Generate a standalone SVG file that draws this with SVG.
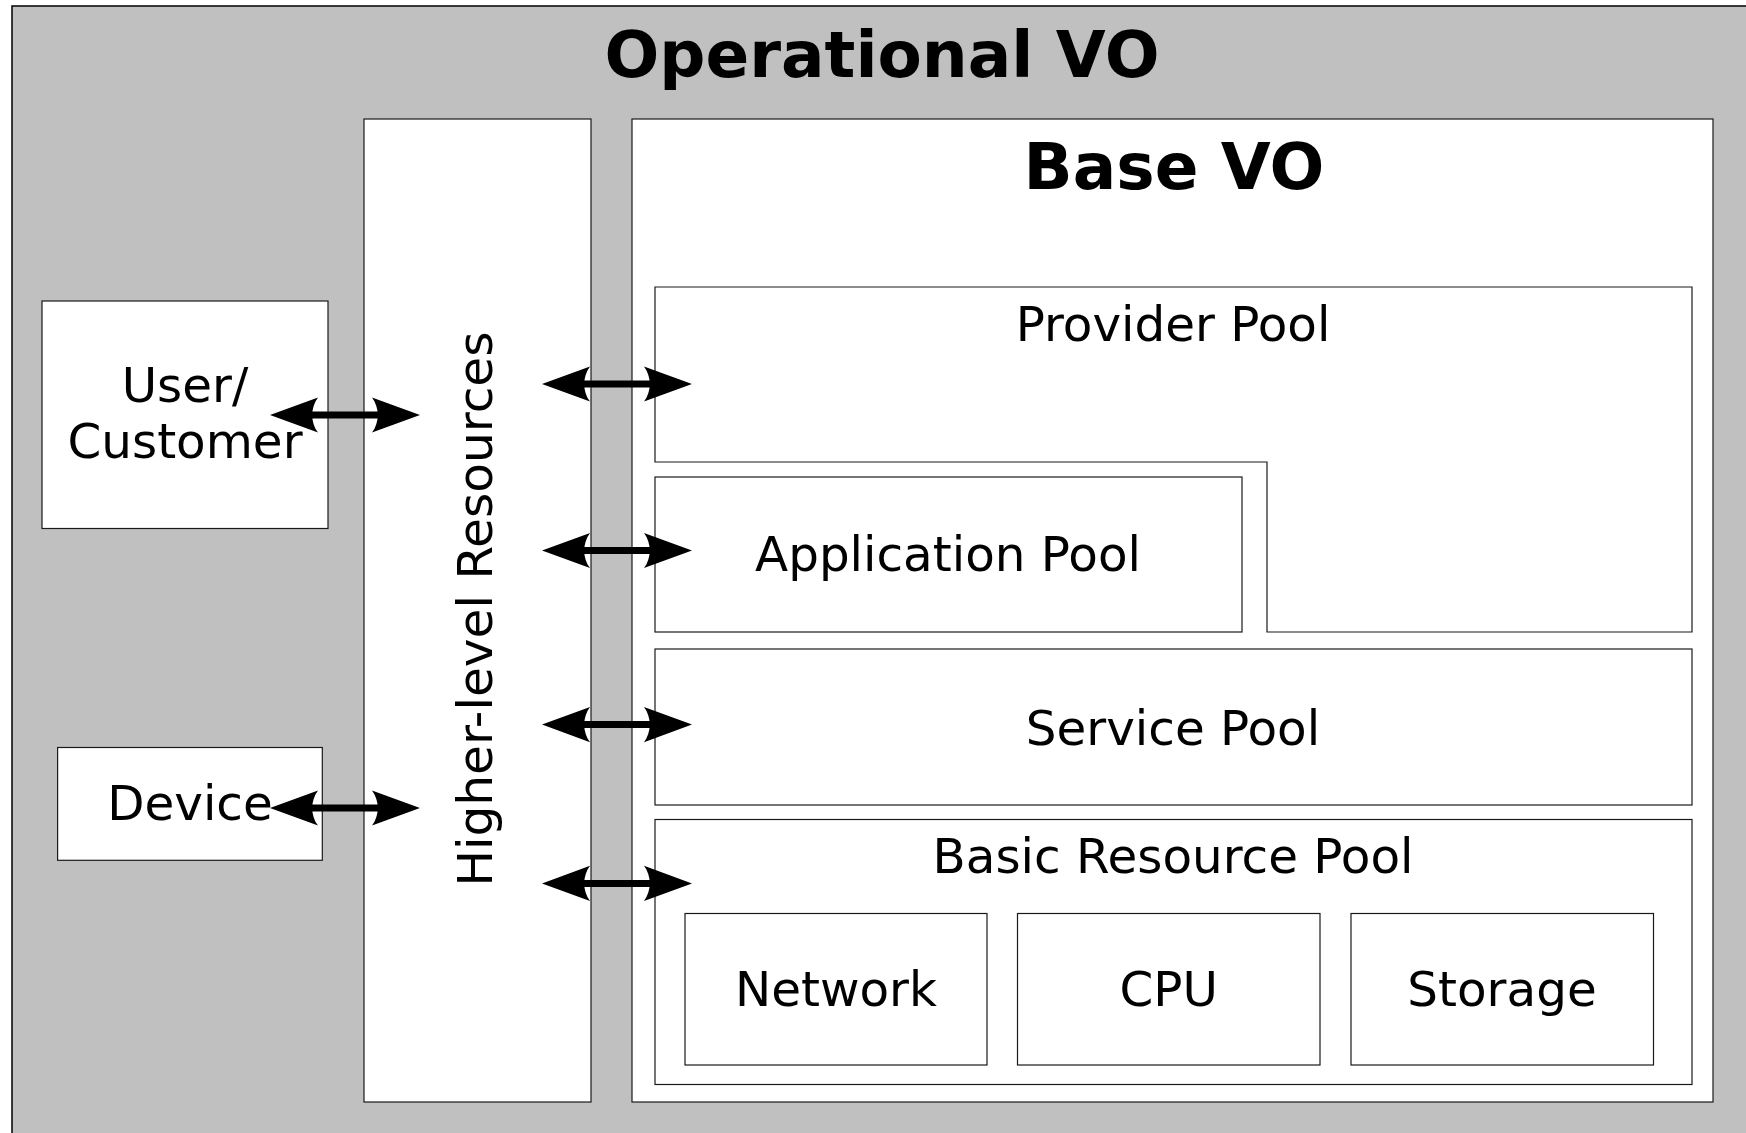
<svg xmlns="http://www.w3.org/2000/svg" width="1746" height="1133" viewBox="0 0 1746 1133">
<style>
.box{fill:#fff;stroke:#1a1a1a;stroke-width:1.2}
.t{font-family:"DejaVu Sans",sans-serif;font-size:48.4px;fill:#000;text-anchor:middle}
.title{font-family:"DejaVu Sans",sans-serif;font-size:64.5px;font-weight:bold;fill:#000;text-anchor:middle}
.arr{stroke:#000;stroke-width:7;fill:none;marker-start:url(#ah);marker-end:url(#ah)}
</style>
<defs>
<marker id="ah" markerUnits="userSpaceOnUse" viewBox="-50 -20 50 40" markerWidth="50" markerHeight="40" refX="-30" refY="0" orient="auto-start-reverse">
<path d="M0,0 L-48,-17.6 C-40.3,-7.2 -40.3,7.2 -48,17.6 Z" fill="#000"/>
</marker>
</defs>
<g id="operational-vo">
<rect x="12" y="6" width="1750" height="1140" fill="#c0c0c0" stroke="#000" stroke-width="1.5"/>
<text class="title" x="882" y="77">Operational VO</text>
</g>
<g id="higher-level-resources">
<rect class="box" x="364" y="119" width="227" height="983"/>
<text class="t" transform="translate(492,609) rotate(-90)" style="font-size:48.6px">Higher-level Resources</text>
</g>
<g id="base-vo">
<rect class="box" x="632" y="119" width="1081" height="983"/>
<text class="title" x="1174" y="189">Base VO</text>
</g>
<g id="user-customer">
<rect class="box" x="42" y="301" width="286" height="227.5"/>
<text class="t" x="185" y="402">User/</text>
<text class="t" x="185" y="458">Customer</text>
</g>
<g id="device">
<rect class="box" x="57.6" y="747.5" width="264.7" height="112.8"/>
<text class="t" x="190" y="820">Device</text>
</g>
<g id="provider-pool">
<path class="box" d="M655,287 H1692 V632 H1267 V462 H655 Z"/>
<text class="t" x="1173" y="341">Provider Pool</text>
</g>
<g id="application-pool">
<rect class="box" x="655" y="477" width="587" height="155"/>
<text class="t" x="948" y="571">Application Pool</text>
</g>
<g id="service-pool">
<rect class="box" x="655" y="649" width="1037" height="156"/>
<text class="t" x="1173" y="745">Service Pool</text>
</g>
<g id="basic-resource-pool">
<rect class="box" x="655" y="819.5" width="1037" height="265"/>
<text class="t" x="1173" y="873">Basic Resource Pool</text>
</g>
<g id="network">
<rect class="box" x="685" y="913.5" width="302" height="151.5"/>
<text class="t" x="836" y="1006">Network</text>
</g>
<g id="cpu">
<rect class="box" x="1017.5" y="913.5" width="302.5" height="151.5"/>
<text class="t" x="1168.7" y="1006">CPU</text>
</g>
<g id="storage">
<rect class="box" x="1351" y="913.5" width="302.5" height="151.5"/>
<text class="t" x="1502" y="1006">Storage</text>
</g>
<g id="connectors">
<line class="arr" x1="300" y1="415" x2="390" y2="415"/>
<line class="arr" x1="300" y1="808" x2="390" y2="808"/>
<line class="arr" x1="572" y1="384" x2="662" y2="384"/>
<line class="arr" x1="572" y1="550.5" x2="662" y2="550.5"/>
<line class="arr" x1="572" y1="724.6" x2="662" y2="724.6"/>
<line class="arr" x1="572" y1="883.4" x2="662" y2="883.4"/>
</g>
</svg>
